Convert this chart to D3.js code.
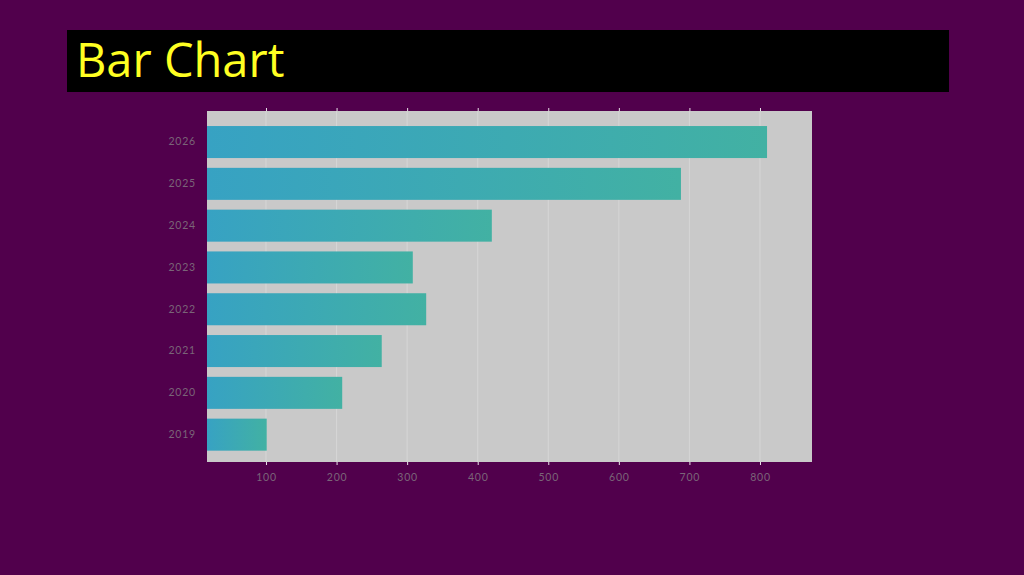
<!DOCTYPE html>
<html><head><meta charset="utf-8">
<script src="https://cdn.jsdelivr.net/npm/d3@7"></script>
<style>
html,body{margin:0;padding:0;background:#51004c;}
svg{display:block;}
</style></head>
<body>
<svg id="chart" width="1024" height="575"></svg>
<script>
const title = "Bar Chart";
const years = ["2019","2020","2021","2022","2023","2024","2025","2026"];
const values = [101, 208, 264, 327, 308, 420, 688, 810];
const xTicks = [100, 200, 300, 400, 500, 600, 700, 800];

const svg = d3.select("#chart");
svg.append("rect").attr("width",1024).attr("height",575).attr("fill","#51004c");

// title box
svg.append("rect").attr("x",67).attr("y",30).attr("width",882).attr("height",62).attr("fill","#000");
svg.append("text").attr("x",76).attr("y",77).attr("fill","#ffff22")
  .attr("font-family","'Open Sans', 'Noto Sans', sans-serif").attr("font-size",47)
  .text(title);

const L=207, R=812, T=111, B=462;
const x = d3.scaleLinear().domain([16.4, 873.7]).range([L,R]);
const y = d3.scaleBand().domain(years.slice().reverse()).range([T,B])
  .paddingInner(0.234).paddingOuter(0.3155).align(0.57);

const defs = svg.append("defs");
const grad = defs.append("linearGradient").attr("id","barGrad")
  .attr("x1","0%").attr("x2","100%").attr("y1","0%").attr("y2","0%");
grad.append("stop").attr("offset","0%").attr("stop-color","#37a2c3");
grad.append("stop").attr("offset","100%").attr("stop-color","#42b1a3");

svg.append("rect").attr("x",L).attr("y",T).attr("width",R-L).attr("height",B-T).attr("fill","#c9c9c9");

// grid
svg.append("g").selectAll("line").data(xTicks).join("line")
  .attr("x1",d=>x(d)).attr("x2",d=>x(d)).attr("y1",T).attr("y2",B)
  .attr("stroke","#d6d6d6").attr("stroke-width",1);

// bars
svg.append("g").selectAll("rect").data(years).join("rect")
  .attr("x",x(16.4))
  .attr("y",d=>y(d))
  .attr("width",(d,i)=>x(values[i])-x(16.4))
  .attr("height",y.bandwidth())
  .attr("fill","url(#barGrad)");

// axes
const xAxis = svg.append("g").attr("transform",`translate(0,${B})`)
  .call(d3.axisBottom(x).tickValues(xTicks).tickSize(3).tickSizeOuter(0).tickPadding(9));
xAxis.select(".domain").remove();
xAxis.selectAll(".tick line").attr("stroke","#e8e0e8");
xAxis.selectAll("text").attr("fill","#7a6478").attr("font-size",10.5)
  .attr("font-family","Lato, 'Open Sans', sans-serif").attr("letter-spacing","0.8px");

const xTop = svg.append("g").attr("transform",`translate(0,${T})`)
  .call(d3.axisTop(x).tickValues(xTicks).tickSize(3).tickSizeOuter(0).tickFormat(""));
xTop.select(".domain").remove();
xTop.selectAll(".tick line").attr("stroke","#e8e0e8");

const yAxis = svg.append("g").attr("transform",`translate(${L},0)`)
  .call(d3.axisLeft(y).tickSize(0).tickPadding(11));
yAxis.select(".domain").remove();
yAxis.selectAll("text").attr("fill","#7a6478").attr("font-size",10.5)
  .attr("font-family","Lato, 'Open Sans', sans-serif").attr("letter-spacing","0.8px");
</script>
</body></html>
